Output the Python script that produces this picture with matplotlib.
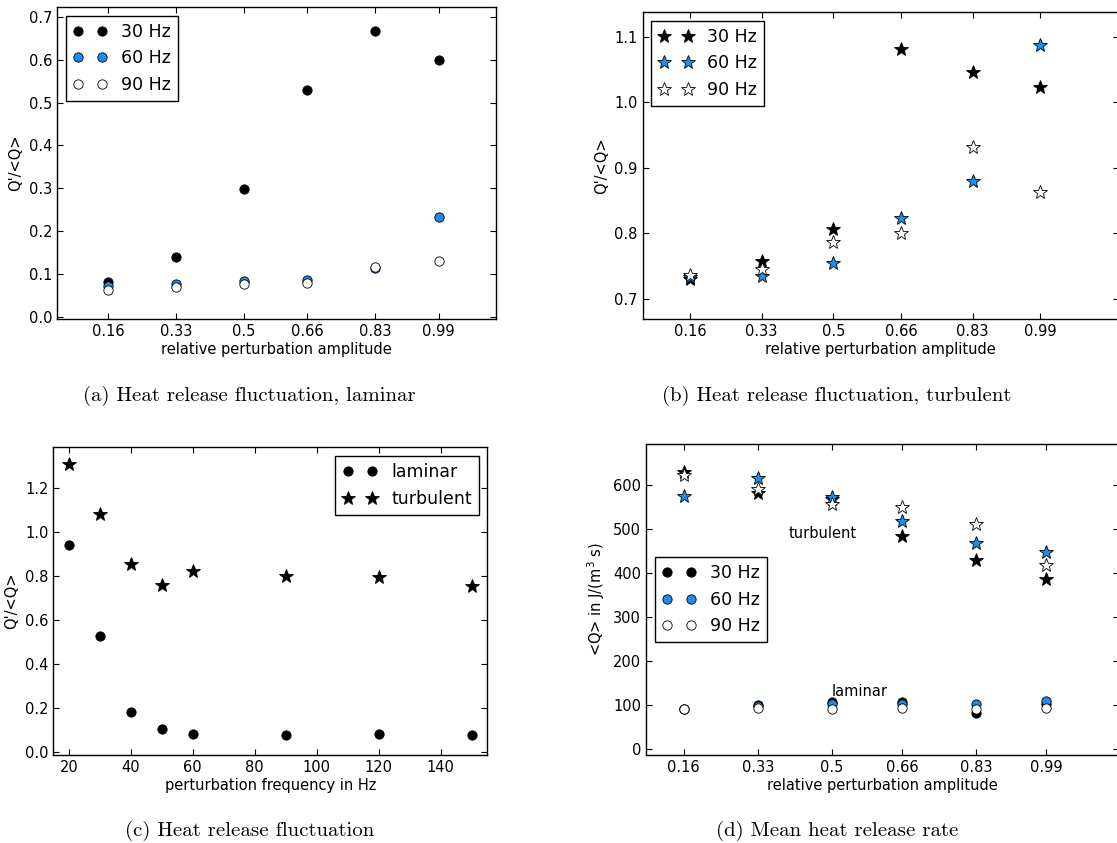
import matplotlib
matplotlib.use("Agg")
import matplotlib.pyplot as plt

# amplitude sweep (panels a, b, d)
amplitude = [0.16, 0.33, 0.5, 0.66, 0.83, 0.99]
amp_labels = ['0.16', '0.33', '0.5', '0.66', '0.83', '0.99']

# (a) Q'/<Q>, laminar
lam_30 = [0.082, 0.139, 0.299, 0.530, 0.667, 0.600]
lam_60 = [0.072, 0.076, 0.083, 0.087, 0.113, 0.233]
lam_90 = [0.062, 0.070, 0.077, 0.079, 0.117, 0.131]

# (b) Q'/<Q>, turbulent
turb_30 = [0.730, 0.757, 0.806, 1.082, 1.047, 1.023]
turb_60 = [0.733, 0.734, 0.754, 0.824, 0.880, 1.088]
turb_90 = [0.736, 0.746, 0.786, 0.800, 0.932, 0.863]

# (c) Q'/<Q> over frequency
freq = [20, 30, 40, 50, 60, 90, 120, 150]
freq_lam = [0.941, 0.529, 0.182, 0.108, 0.085, 0.079, 0.083, 0.079]
freq_turb = [1.308, 1.082, 0.856, 0.759, 0.824, 0.800, 0.795, 0.756]

# (d) mean heat release rate <Q>
mean_turb_30 = [629, 582, 569, 485, 430, 387]
mean_turb_60 = [576, 616, 574, 519, 468, 448]
mean_turb_90 = [623, 592, 558, 551, 511, 418]
mean_lam_30 = [91, 101, 107, 108, 83, 102]
mean_lam_60 = [91, 98, 102, 102, 102, 110]
mean_lam_90 = [91, 93, 92, 93, 92, 93]

blue = '#1f8ceb'
colors = ['black', blue, 'white']
hz_labels = ['30 Hz', '60 Hz', '90 Hz']

plt.rcParams.update({'font.size': 10.5, 'axes.linewidth': 1.0,
                     'xtick.direction': 'in', 'ytick.direction': 'in',
                     'xtick.top': True, 'ytick.right': True,
                     'xtick.major.size': 4, 'ytick.major.size': 4,
                     'legend.fancybox': False, 'legend.edgecolor': 'black',
                     'legend.framealpha': 1.0, 'legend.numpoints': 2,
                     'legend.fontsize': 12.5})

W, H = 1117, 843
fig = plt.figure(figsize=(W / 100, H / 100), dpi=100)


def box(left, right, top, bottom):
    return [left / W, 1 - bottom / H, (right - left) / W, (bottom - top) / H]


def style_legend(leg):
    leg.get_frame().set_linewidth(1.0)


circ = dict(marker='o', ms=6.7, mec='black', mew=0.6, linestyle='none')
star = dict(marker='*', ms=10, mec='black', mew=0.6, linestyle='none')

# (a)
ax = fig.add_axes(box(57, 496, 7, 319))
for vals, c, lab in zip([lam_30, lam_60, lam_90], colors, hz_labels):
    ax.plot(amplitude, vals, mfc=c, label=lab, **circ)
ax.set_xlim(0.031, 1.134)
ax.set_ylim(-0.005, 0.723)
ax.set_xticks(amplitude)
ax.set_xticklabels(amp_labels)
ax.set_yticks([0.0, 0.1, 0.2, 0.3, 0.4, 0.5, 0.6, 0.7])
ax.set_xlabel('relative perturbation amplitude', labelpad=2)
ax.set_ylabel("Q'/<Q>")
style_legend(ax.legend(loc='upper left'))

# (b)
ax = fig.add_axes(box(642.7, 1119, 12, 319))
for vals, c, lab in zip([turb_30, turb_60, turb_90], colors, hz_labels):
    ax.plot(amplitude, vals, mfc=c, label=lab, **star)
ax.set_xlim(0.048, 1.177)
ax.set_ylim(0.669, 1.138)
ax.set_xticks(amplitude)
ax.set_xticklabels(amp_labels)
ax.set_yticks([0.7, 0.8, 0.9, 1.0, 1.1])
ax.set_xlabel('relative perturbation amplitude', labelpad=2)
ax.set_ylabel("Q'/<Q>")
style_legend(ax.legend(loc='upper left'))

# (c)
ax = fig.add_axes(box(53.3, 487.3, 447.3, 755))
ax.plot(freq, freq_lam, mfc='black', label='laminar', **circ)
ax.plot(freq, freq_turb, mfc='black', label='turbulent', **star)
ax.set_xlim(15, 155)
ax.set_ylim(-0.012, 1.386)
ax.set_xticks([20, 40, 60, 80, 100, 120, 140])
ax.set_yticks([0.0, 0.2, 0.4, 0.6, 0.8, 1.0, 1.2])
ax.set_xlabel('perturbation frequency in Hz', labelpad=2)
ax.set_ylabel("Q'/<Q>")
style_legend(ax.legend(loc='upper right'))

# (d)
ax = fig.add_axes(box(646, 1119, 444.3, 755))
for vals, c in zip([mean_turb_30, mean_turb_60, mean_turb_90], colors):
    ax.plot(amplitude, vals, mfc=c, **star)
for vals, c, lab in zip([mean_lam_30, mean_lam_60, mean_lam_90], colors, hz_labels):
    ax.plot(amplitude, vals, mfc=c, label=lab, **circ)
ax.text(0.40, 480, 'turbulent')
ax.text(0.50, 120, 'laminar')
ax.set_xlim(0.074, 1.157)
ax.set_ylim(-13.6, 693)
ax.set_xticks(amplitude)
ax.set_xticklabels(amp_labels)
ax.set_yticks([0, 100, 200, 300, 400, 500, 600])
ax.set_xlabel('relative perturbation amplitude', labelpad=2)
ax.set_ylabel(r'<Q> in J/(m$^3$ s)')
style_legend(ax.legend(loc='center left'))

# sub-captions
cap = dict(ha='center', va='center', fontsize=15, family='cmr10')
fig.text(249 / W, 1 - 396 / H, '(a) Heat release fluctuation, laminar', **cap)
fig.text(837 / W, 1 - 396 / H, '(b) Heat release fluctuation, turbulent', **cap)
fig.text(250 / W, 1 - 831 / H, '(c) Heat release fluctuation', **cap)
fig.text(837 / W, 1 - 831 / H, '(d) Mean heat release rate', **cap)

fig.savefig('out.png', dpi=100)
